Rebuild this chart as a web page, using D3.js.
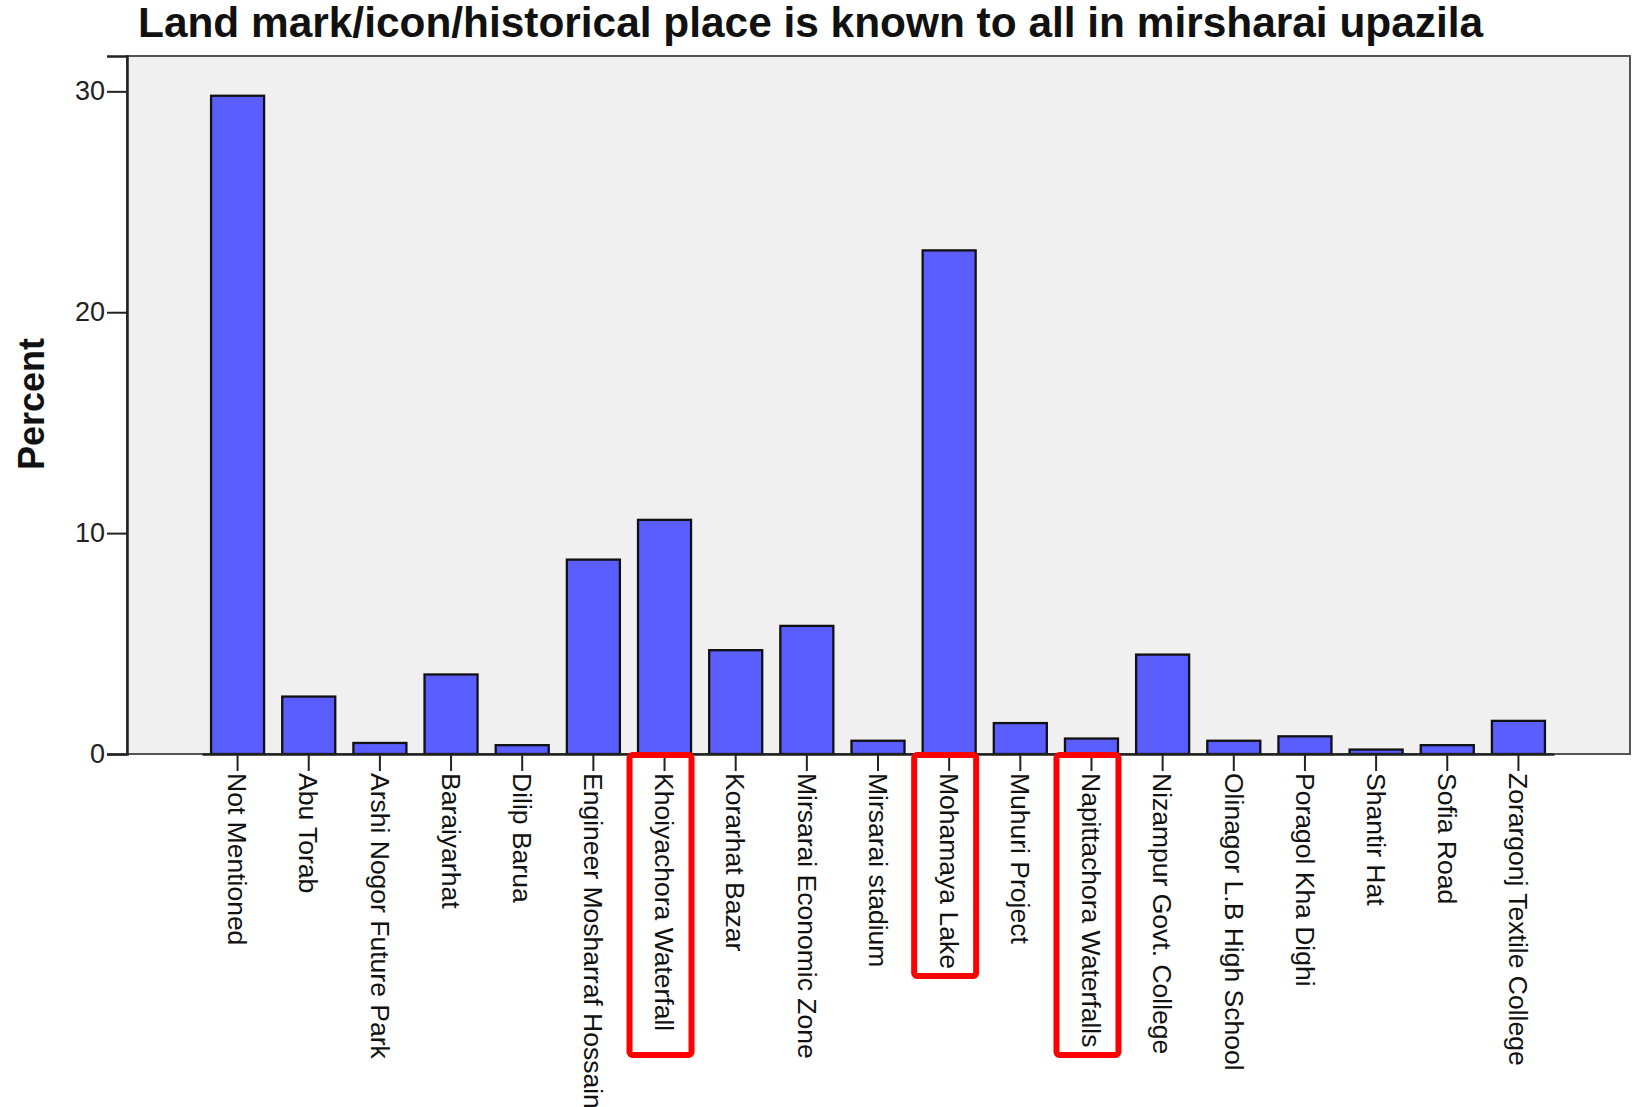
<!DOCTYPE html>
<html>
<head>
<meta charset="utf-8">
<script src="https://cdn.jsdelivr.net/npm/d3@7"></script>
<style>
  body { margin: 0; background: #fff; }
  svg { display: block; font-family: "Liberation Sans", Arial, sans-serif; }
</style>
</head>
<body>
<div id="chart-area"></div>
<script>
// data
var categories = ["Not Mentioned", "Abu Torab", "Arshi Nogor Future Park", "Baraiyarhat",
  "Dilip Barua", "Engineer Mosharraf Hossain", "Khoiyachora Waterfall", "Korarhat Bazar",
  "Mirsarai Economic Zone", "Mirsarai stadium", "Mohamaya Lake", "Muhuri Project",
  "Napittachora Waterfalls", "Nizampur Govt. College", "Olinagor L.B High School",
  "Poragol Kha Dighi", "Shantir Hat", "Sofia Road", "Zorargonj Textile College"];
var percents = [29.8, 2.6, 0.5, 3.6, 0.4, 8.8, 10.6, 4.7, 5.8, 0.6, 22.8, 1.4, 0.7, 4.5, 0.6, 0.8, 0.2, 0.4, 1.5];
var yTicks = [0, 10, 20, 30];

// red boxes drawn over some of the labels
var highlighted = ["Khoiyachora Waterfall", "Mohamaya Lake", "Napittachora Waterfalls"];
var boxDepth = {"Khoiyachora Waterfall": 300, "Mohamaya Lake": 221, "Napittachora Waterfalls": 300};

var W = 1633, H = 1107;
var margin = {left: 127, right: 3, top: 56, bottom: 353};
var width = W - margin.left - margin.right,
    height = H - margin.top - margin.bottom;

var svg = d3.select("#chart-area")
  .append("svg")
    .attr("width", W)
    .attr("height", H);

var g = svg.append("g")
    .attr("transform", "translate(" + margin.left + "," + margin.top + ")");

// plot background + frame
g.append("rect")
    .attr("width", width)
    .attr("height", height)
    .attr("fill", "#f0f0f0")
    .attr("stroke", "#555")
    .attr("stroke-width", 2);

var x = d3.scaleBand()
  .domain(categories)
  .range([75, width - 76])
  .paddingInner(0.255)
  .paddingOuter(0.1275);

var y = d3.scaleLinear()
  .domain([0, 31.6])
  .range([height, 0]);

// bars
g.selectAll(".bar")
  .data(categories)
  .enter()
  .append("rect")
    .attr("class", "bar")
    .attr("x", function(d) { return x(d); })
    .attr("y", function(d, i) { return y(percents[i]); })
    .attr("width", x.bandwidth())
    .attr("height", function(d, i) { return height - y(percents[i]); })
    .attr("fill", "#5b5eff")
    .attr("stroke", "#111")
    .attr("stroke-width", 2.3);

// Y axis
var yAxis = g.append("g")
  .call(d3.axisLeft(y).tickValues(yTicks).tickSize(20).tickPadding(2));
yAxis.select(".domain").attr("stroke", "#222").attr("stroke-width", 2.5);
yAxis.selectAll(".tick line").attr("stroke", "#222").attr("stroke-width", 2);
yAxis.selectAll("text")
    .attr("font-size", "27px")
    .attr("font-family", "Liberation Sans, Arial, sans-serif")
    .attr("fill", "#222");

// X axis
var xAxis = g.append("g")
  .attr("transform", "translate(0," + height + ")")
  .call(d3.axisBottom(x).tickSize(17).tickSizeOuter(0));
xAxis.select(".domain").attr("stroke", "#222").attr("stroke-width", 2.5);
xAxis.selectAll(".tick line").attr("stroke", "#222").attr("stroke-width", 2);
xAxis.selectAll("text")
    .attr("font-size", "26.5px")
    .attr("font-family", "Liberation Sans, Arial, sans-serif")
    .attr("fill", "#111")
    .attr("transform", "rotate(90)")
    .attr("x", 19)
    .attr("y", 0)
    .attr("dy", "0.35em")
    .style("text-anchor", "start");

// highlight boxes
g.selectAll(".hl")
  .data(highlighted)
  .enter()
  .append("rect")
    .attr("class", "hl")
    .attr("x", function(d) { return x(d) + x.bandwidth() / 2 - 35; })
    .attr("y", height + 1)
    .attr("width", 62)
    .attr("height", function(d) { return boxDepth[d]; })
    .attr("rx", 3)
    .attr("fill", "none")
    .attr("stroke", "#f00")
    .attr("stroke-width", 6);

// labels
svg.append("text")
    .attr("x", 138)
    .attr("y", 37)
    .attr("font-size", "42.4px")
    .attr("font-weight", "bold")
    .attr("fill", "#111")
    .text("Land mark/icon/historical place is known to all in mirsharai upazila");

svg.append("text")
    .attr("transform", "translate(44,404) rotate(-90)")
    .attr("text-anchor", "middle")
    .attr("font-size", "36px")
    .attr("font-weight", "bold")
    .attr("fill", "#111")
    .text("Percent");
</script>
</body>
</html>
